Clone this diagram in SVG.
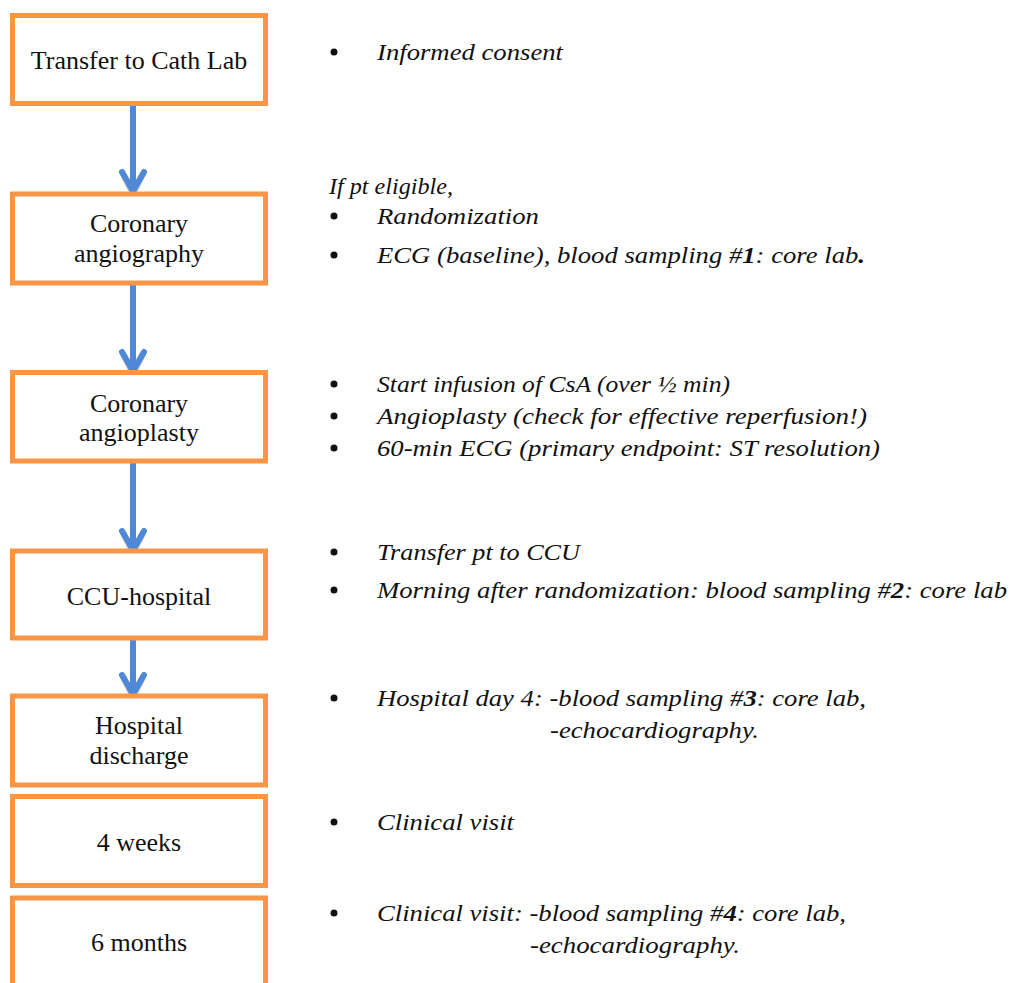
<svg xmlns="http://www.w3.org/2000/svg" width="1013" height="983" viewBox="0 0 1013 983">
<style>
.box{fill:#fff;stroke:#F79646;stroke-width:5}
.lbl{font-size:26px;fill:#111;text-anchor:middle}
.it{font-size:24px;font-style:italic;fill:#111}
.b{font-weight:bold}
.shaft{stroke:#4F88D6;stroke-width:6;fill:none}
.head{stroke:#4F88D6;stroke-width:6;fill:none;stroke-linecap:round;stroke-linejoin:miter}
.shadow{stroke:#8a8a8a;stroke-width:6;fill:none;opacity:0.5}
</style>
<rect width="1013" height="983" fill="#fff"/>
<g id="connectors">
  <g><line class="shaft" x1="133" y1="104" x2="133" y2="190"/><polyline class="shadow" points="123,174 133,194 143,174"/><polyline class="head" points="122,172 133,191 144,172"/></g>
  <g><line class="shaft" x1="133" y1="285" x2="133" y2="370"/><polyline class="shadow" points="123,354 133,374 143,354"/><polyline class="head" points="122,352 133,371 144,352"/></g>
  <g><line class="shaft" x1="133" y1="463" x2="133" y2="550"/><polyline class="shadow" points="123,533 133,553 143,533"/><polyline class="head" points="122,531 133,550 144,531"/></g>
  <g><line class="shaft" x1="133" y1="640" x2="133" y2="693"/><polyline class="shadow" points="123,677 133,697 143,677"/><polyline class="head" points="122,675 133,694 144,675"/></g>
</g>
<g font-family="'Liberation Serif', 'Times New Roman', 'DejaVu Serif', serif">
<g id="n1"><rect class="box" x="12.5" y="15.5" width="253" height="88"/><text class="lbl" x="139" y="69">Transfer to Cath Lab</text></g>
<g id="n2"><rect class="box" x="12.5" y="194" width="253" height="89"/><text class="lbl" x="139" y="232">Coronary</text><text class="lbl" x="139" y="262">angiography</text></g>
<g id="n3"><rect class="box" x="12.5" y="372.5" width="253" height="88.5"/><text class="lbl" x="139" y="412">Coronary</text><text class="lbl" x="139" y="441">angioplasty</text></g>
<g id="n4"><rect class="box" x="12.5" y="551" width="253" height="87"/><text class="lbl" x="139" y="605">CCU-hospital</text></g>
<g id="n5"><rect class="box" x="12.5" y="696" width="253" height="89"/><text class="lbl" x="139" y="734">Hospital</text><text class="lbl" x="139" y="764">discharge</text></g>
<g id="n6"><rect class="box" x="12.5" y="796.5" width="253" height="89"/><text class="lbl" x="139" y="851">4 weeks</text></g>
<g id="n7"><rect class="box" x="12.5" y="898" width="253" height="100"/><text class="lbl" x="139" y="951">6 months</text></g>
<g id="notes">
  <g fill="#111">
    <circle cx="334" cy="52" r="3.5"/>
    <circle cx="334" cy="216" r="3.5"/>
    <circle cx="334" cy="255" r="3.5"/>
    <circle cx="334" cy="384" r="3.5"/>
    <circle cx="334" cy="416" r="3.5"/>
    <circle cx="334" cy="448" r="3.5"/>
    <circle cx="334" cy="552" r="3.5"/>
    <circle cx="334" cy="590" r="3.5"/>
    <circle cx="334" cy="698" r="3.5"/>
    <circle cx="334" cy="822" r="3.5"/>
    <circle cx="334" cy="913" r="3.5"/>
  </g>
  <text class="it" x="377" y="60" textLength="186" lengthAdjust="spacingAndGlyphs">Informed consent</text>

  <text class="it" x="329" y="194" textLength="124" lengthAdjust="spacingAndGlyphs">If pt eligible,</text>
  <text class="it" x="377" y="224" textLength="162" lengthAdjust="spacingAndGlyphs">Randomization</text>
  <text class="it" x="377" y="263" textLength="488" lengthAdjust="spacingAndGlyphs">ECG (baseline), blood sampling #<tspan class="b">1</tspan>: core lab<tspan class="b">.</tspan></text>

  <text class="it" x="377" y="392" textLength="353" lengthAdjust="spacingAndGlyphs">Start infusion of CsA (over ½ min)</text>
  <text class="it" x="377" y="424" textLength="490" lengthAdjust="spacingAndGlyphs">Angioplasty (check for effective reperfusion!)</text>
  <text class="it" x="377" y="456" textLength="503" lengthAdjust="spacingAndGlyphs">60-min ECG (primary endpoint: ST resolution)</text>

  <text class="it" x="377" y="560" textLength="203" lengthAdjust="spacingAndGlyphs">Transfer pt to CCU</text>
  <text class="it" x="377" y="598" textLength="630" lengthAdjust="spacingAndGlyphs">Morning after randomization: blood sampling #<tspan class="b">2</tspan>: core lab</text>

  <text class="it" x="377" y="706" textLength="489" lengthAdjust="spacingAndGlyphs">Hospital day 4: -blood sampling #<tspan class="b">3</tspan>: core lab,</text>
  <text class="it" x="550" y="738" textLength="209" lengthAdjust="spacingAndGlyphs">-echocardiography.</text>

  <text class="it" x="377" y="830" textLength="137" lengthAdjust="spacingAndGlyphs">Clinical visit</text>

  <text class="it" x="377" y="921" textLength="469" lengthAdjust="spacingAndGlyphs">Clinical visit: -blood sampling #<tspan class="b">4</tspan>: core lab,</text>
  <text class="it" x="530" y="953" textLength="210" lengthAdjust="spacingAndGlyphs">-echocardiography.</text>
</g>
</g>
</svg>
